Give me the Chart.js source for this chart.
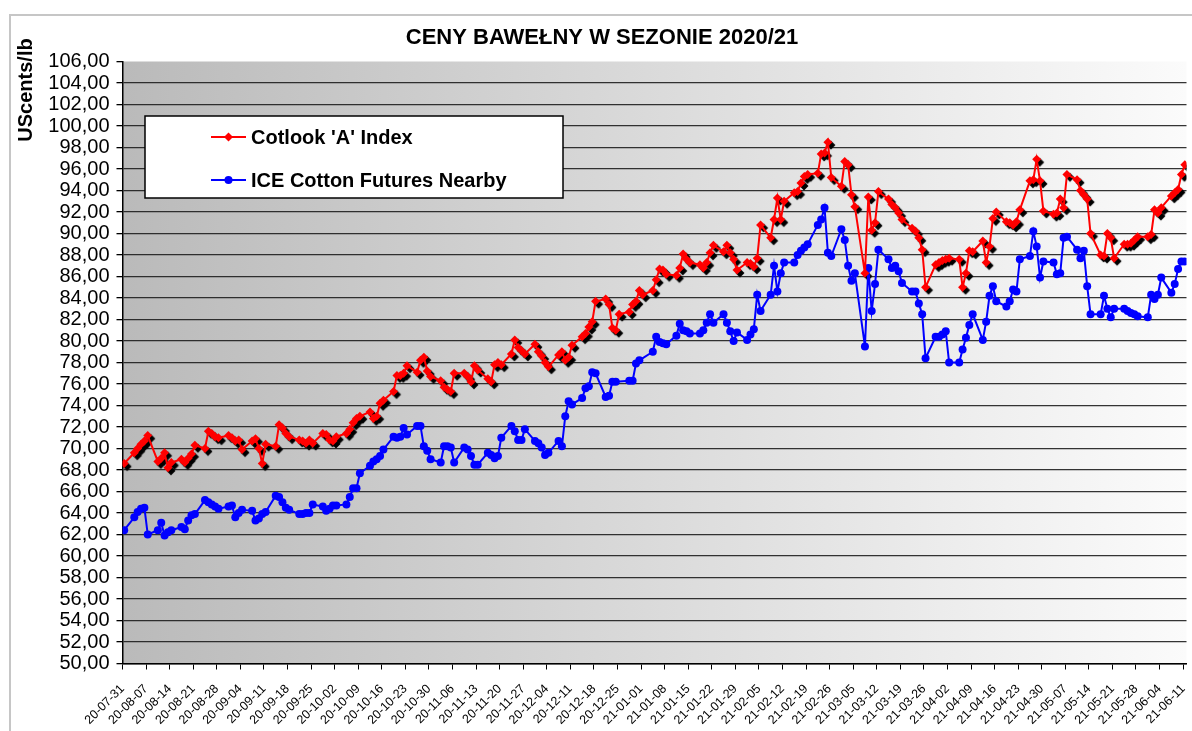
<!DOCTYPE html>
<html>
<head>
<meta charset="utf-8">
<script src="https://cdn.jsdelivr.net/npm/chart.js@4.4.0/dist/chart.umd.min.js"></script>
<style>
  html, body { margin: 0; padding: 0; background: #fff; }
  canvas { display: block; }
</style>
</head>
<body>
<canvas id="cotton" width="1192" height="731"></canvas>
<script>
// Friday tick labels, one per week
const weekLabels = [
  '20-07-31', '20-08-07', '20-08-14', '20-08-21', '20-08-28', '20-09-04', '20-09-11', '20-09-18',
  '20-09-25', '20-10-02', '20-10-09', '20-10-16', '20-10-23', '20-10-30', '20-11-06', '20-11-13',
  '20-11-20', '20-11-27', '20-12-04', '20-12-11', '20-12-18', '20-12-25', '21-01-01', '21-01-08',
  '21-01-15', '21-01-22', '21-01-29', '21-02-05', '21-02-12', '21-02-19', '21-02-26', '21-03-05',
  '21-03-12', '21-03-19', '21-03-26', '21-04-02', '21-04-09', '21-04-16', '21-04-23', '21-04-30',
  '21-05-07', '21-05-14', '21-05-21', '21-05-28', '21-06-04', '21-06-11'
];

// Cotlook 'A' Index, USc/lb: Fri 20-07-31, then Mon..Fri rows
const cotlook = [
  68.6,
  69.6, 70.0, 70.4, 70.7, 71.2,
  68.8, 69.1, 69.6, 68.2, 68.7,
  69.0, 68.7, 69.1, 69.5, 70.3,
  70.0, 71.6, 71.4, 71.1, 71.0,
  71.2, 71.0, 70.7, 70.8, 69.9,
  70.7, 70.9, 70.0, 68.6, 70.4,
  70.2, 72.2, 71.9, 71.4, 71.1,
  70.8, 70.7, 70.5, 70.8, 70.5,
  71.4, 71.3, 70.8, 70.7, 71.1,
  71.4, 71.8, 72.4, 72.8, 73.0,
  73.4, 72.8, 73.0, 74.2, 74.5,
  75.3, 76.8, 76.8, 77.0, 77.7,
  77.1, 78.2, 78.5, 77.2, 76.7,
  76.3, 75.7, 75.5, 75.3, 77.0,
  77.0, 76.7, 76.2, 77.7, 77.3,
  76.5, 76.2, 77.8, 78.0, 77.8,
  78.8, 80.1, 79.4, 79.1, 78.8,
  79.7, 79.0, 78.6, 78.0, 77.6,
  78.7, 79.0, 78.2, 78.5, 79.6,
  80.4, 80.7, 81.3, 81.8, 83.7,
  83.9, 83.4, 81.2, 81.0, 82.5,
  82.7, 83.4, 83.7, 84.7, 84.3,
  84.7, 85.7, 86.7, 86.6, 86.2,
  86.1, 86.8, 88.1, 87.6, 87.3,
  87.1, 86.8, 87.3, 88.2, 88.9,
  88.3, 88.9, 88.2, 87.6, 86.6,
  87.3, 87.2, 86.9, 87.7, 90.8,
  89.6, 91.3, 93.3, 91.3, 93.0,
  93.8, 93.9, 94.7, 95.3, 95.5,
  95.6, 97.4, 97.5, 98.5, 95.2,
  94.4, 96.7, 96.4, 93.6, 92.5,
  86.3, 93.4, 90.3, 91.0, 93.9,
  93.2, 92.7, 92.4, 91.9, 91.3,
  90.5, 90.2, 89.6, 88.5, 85.0,
  87.1, 87.3, 87.5, 87.6, 87.7,
  87.6, 85.0, 86.3, 88.4, 88.3,
  89.3, 87.3, 88.8, 91.4, 92.0,
  91.1, 91.0, 90.8, 91.1, 92.2,
  94.9, 95.0, 96.9, 94.9, 92.1,
  91.8, 91.9, 93.2, 92.4, 95.5,
  95.0, 94.0, 93.6, 93.2, 90.0,
  88.0, 87.9, 90.0, 89.6, 87.7,
  89.0, 89.0, 89.1, 89.4, 89.7,
  89.7, 89.9, 92.2, 91.9, 92.4,
  93.5, 93.8, 94.1, 95.5, 96.4
];

// ICE Cotton Futures nearby, same days (null = no session)
const iceNearby = [
  62.4,
  63.6, 64.1, 64.4, 64.5, 62.0,
  62.4, 63.1, 61.9, 62.2, 62.4,
  62.7, 62.5, 63.3, 63.8, 63.9,
  65.2, 65.0, 64.8, 64.6, 64.4,
  64.6, 64.7, 63.6, 64.0, 64.3,
  64.2, 63.3, 63.5, 63.9, 64.1,
  65.6, 65.5, 65.0, 64.5, 64.3,
  63.9, 63.9, 64.0, 64.0, 64.8,
  64.6, 64.2, 64.4, 64.7, 64.7,
  64.8, 65.5, 66.3, 66.3, 67.7,
  68.4, 68.8, 69.0, 69.3, 69.9,
  71.1, 71.0, 71.1, 71.9, 71.3,
  72.1, 72.1, 70.2, 69.8, 69.0,
  68.7, 70.2, 70.2, 70.1, 68.7,
  70.1, 69.9, 69.3, 68.5, 68.5,
  69.6, 69.4, 69.1, 69.3, 71.0,
  72.1, 71.6, 70.8, 70.8, 71.8,
  70.7, 70.5, 70.1, 69.4, 69.6,
  70.7, 70.2, 73.0, 74.4, 74.1,
  74.7, 75.6, 75.8, 77.1, 77.0,
  74.8, 74.9, 76.2, 76.2, null,
  76.3, 76.3, 77.9, 78.2, null,
  79.0, 80.4, 79.9, 79.8, 79.7,
  80.5, 81.6, 81.0, 80.9, 80.7,
  80.7, 81.0, 81.7, 82.5, 81.7,
  82.5, 81.7, 80.9, 80.0, 80.8,
  80.1, 80.6, 81.1, 84.3, 82.8,
  84.3, 87.0, 84.6, 86.3, 87.3,
  87.3, 88.0, 88.4, 88.7, 89.0,
  90.8, 91.3, 92.4, 88.2, 87.9,
  90.4, 89.4, 87.0, 85.6, 86.3,
  79.5, 86.8, 82.8, 85.3, 88.5,
  87.6, 86.8, 87.0, 86.5, 85.4,
  84.6, 84.6, 83.5, 82.5, 78.4,
  80.4, 80.4, 80.6, 80.9, 78.0,
  78.0, 79.2, 80.3, 81.5, 82.5,
  80.1, 81.8, 84.2, 85.1, 83.7,
  83.2, 83.7, 84.8, 84.6, 87.6,
  87.9, 90.2, 88.8, 85.9, 87.4,
  87.3, 86.2, 86.3, 89.6, 89.7,
  88.5, 87.7, 88.4, 85.1, 82.5,
  82.5, 84.2, 83.0, 82.2, 83.0,
  83.0, 82.8, 82.6, 82.5, 82.3,
  82.2, 84.3, 83.9, 84.3, 85.9,
  84.5, 85.3, 86.7, 87.4, 87.4
];

const FONT = 'Arial, "Liberation Sans", sans-serif';

// day offsets from 20-07-31: that Friday, then Mon..Fri of every following week
const dayOffsets = [0];
for (let k = 1; k < weekLabels.length; k++) {
  for (let j = 4; j >= 0; j--) dayOffsets.push(7 * k - j);
}
// each day sits in the middle of its one-day slot
const toPoints = vals => vals.map((v, i) => ({ x: dayOffsets[i] + 0.5, y: v }));

// black drop shadow under the red diamonds
const shadowMark = document.createElement('canvas');
shadowMark.width = 18;
shadowMark.height = 18;
(function () {
  const c = shadowMark.getContext('2d');
  c.fillStyle = '#000';
  c.beginPath();
  c.moveTo(12, 7.5); c.lineTo(16.5, 12); c.lineTo(12, 16.5); c.lineTo(7.5, 12);
  c.closePath();
  c.fill();
})();

const decor = {
  id: 'decor',
  beforeDraw(chart) {
    const { ctx, chartArea: a } = chart;
    ctx.save();
    ctx.fillStyle = '#fff';
    ctx.fillRect(0, 0, chart.width, chart.height);
    ctx.strokeStyle = '#c6c6c6';
    ctx.lineWidth = 2;
    ctx.strokeRect(10, 15, chart.width + 40, chart.height + 40);

    const g = ctx.createLinearGradient(a.left, 0, a.right, 0);
    g.addColorStop(0, '#bababa');
    g.addColorStop(1, '#fbfbfb');
    ctx.fillStyle = g;
    ctx.fillRect(a.left, a.top, a.right - a.left, a.bottom - a.top);

    ctx.fillStyle = '#000';
    ctx.textAlign = 'center';
    ctx.textBaseline = 'middle';
    ctx.font = 'bold 22px ' + FONT;
    ctx.fillText('CENY BAWEŁNY W SEZONIE 2020/21', 602, 38);

    ctx.translate(26, 90);
    ctx.rotate(-Math.PI / 2);
    ctx.font = 'bold 20px ' + FONT;
    ctx.fillText('UScents/lb', 0, 0);
    ctx.restore();
  },
  afterDraw(chart) {
    const ctx = chart.ctx;
    ctx.save();
    ctx.fillStyle = '#fff';
    ctx.fillRect(145, 116, 418, 82);
    ctx.strokeStyle = '#000';
    ctx.lineWidth = 1.5;
    ctx.strokeRect(145, 116, 418, 82);

    const rows = [
      { ds: chart.data.datasets[1], y: 137 },
      { ds: chart.data.datasets[2], y: 180 }
    ];
    ctx.font = 'bold 20px ' + FONT;
    ctx.textBaseline = 'middle';
    ctx.textAlign = 'left';
    rows.forEach(r => {
      ctx.strokeStyle = r.ds.borderColor;
      ctx.lineWidth = 2;
      ctx.beginPath();
      ctx.moveTo(211, r.y);
      ctx.lineTo(246, r.y);
      ctx.stroke();
      ctx.fillStyle = r.ds.borderColor;
      ctx.beginPath();
      if (r.ds.pointStyle === 'rectRot') {
        ctx.moveTo(228.5, r.y - 4.5); ctx.lineTo(233, r.y); ctx.lineTo(228.5, r.y + 4.5); ctx.lineTo(224, r.y);
        ctx.closePath();
      } else {
        ctx.arc(228.5, r.y, 4, 0, Math.PI * 2);
      }
      ctx.fill();
      ctx.fillStyle = '#000';
      ctx.fillText(r.ds.label, 251, r.y + 1);
    });
    ctx.restore();
  }
};

const ctx = document.getElementById('cotton').getContext('2d');
const cottonChart = new Chart(ctx, {
  type: 'line',
  data: {
    datasets: [
      {
        label: 'shadow',
        data: toPoints(cotlook),
        showLine: false,
        pointStyle: shadowMark,
        pointRadius: 4.5,
        order: 3
      },
      {
        label: "Cotlook 'A' Index",
        data: toPoints(cotlook),
        borderColor: '#ff0000',
        backgroundColor: '#ff0000',
        borderWidth: 2,
        pointStyle: 'rectRot',
        pointRadius: 4.5,
        pointBorderWidth: 0,
        spanGaps: true,
        order: 1
      },
      {
        label: 'ICE Cotton Futures Nearby',
        data: toPoints(iceNearby),
        borderColor: '#0000ff',
        backgroundColor: '#0000ff',
        borderWidth: 2,
        pointStyle: 'circle',
        pointRadius: 4,
        pointBorderWidth: 0,
        spanGaps: true,
        order: 2
      }
    ]
  },
  options: {
    responsive: false,
    animation: false,
    devicePixelRatio: 1,
    layout: { padding: { top: 61.5, left: 0, right: 0, bottom: 0 } },
    plugins: {
      legend: { display: false },
      title: { display: false },
      tooltip: { enabled: false }
    },
    elements: { line: { tension: 0 } },
    scales: {
      x: {
        type: 'linear',
        min: 0,
        max: 316,
        afterBuildTicks: scale => {
          scale.ticks = weekLabels.map((_, i) => ({ value: 7 * i }));
        },
        afterFit: scale => {
          scale.height = 731 - 663.5;
          scale.paddingLeft = 0;
          scale.paddingRight = 0;
        },
        ticks: {
          autoSkip: false,
          minRotation: 45,
          maxRotation: 45,
          padding: 12,
          color: '#000',
          font: { family: FONT, size: 12.5 },
          callback: (v, i) => weekLabels[i]
        },
        grid: { drawOnChartArea: false, drawTicks: true, tickLength: 6, color: '#000', lineWidth: 1 },
        border: { display: true, color: '#000', width: 1.5 }
      },
      y: {
        min: 50,
        max: 106,
        afterFit: scale => {
          scale.width = 122.5;
          scale.paddingTop = 0;
          scale.paddingBottom = 0;
        },
        ticks: {
          stepSize: 2,
          autoSkip: false,
          padding: 7,
          color: '#000',
          font: { family: FONT, size: 20 },
          callback: v => v.toFixed(2).replace('.', ',')
        },
        grid: {
          tickLength: 6,
          tickColor: '#000',
          lineWidth: 1.3,
          color: c => (c.tick && c.tick.value === 106 ? 'rgba(0,0,0,0)' : 'rgba(30,30,30,0.9)')
        },
        border: { display: true, color: '#000', width: 1.5 }
      }
    }
  },
  plugins: [decor]
});
</script>
</body>
</html>
